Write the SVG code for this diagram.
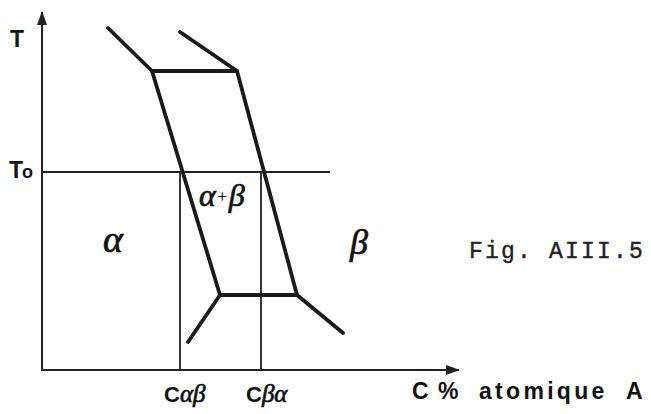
<svg xmlns="http://www.w3.org/2000/svg" width="651" height="414" viewBox="0 0 651 414">
<style>
.ax{stroke:#222;stroke-width:2;fill:none}
.thin{stroke:#222;stroke-width:1.8;fill:none}
.bd{stroke:#1a1a1a;stroke-width:3.8;fill:none;stroke-linejoin:round;stroke-linecap:round}
.sans{font-family:"Liberation Sans",Arial,sans-serif;font-weight:bold;fill:#111}
.gr{font-family:"Liberation Serif","Times New Roman",serif;font-style:italic;fill:#111;stroke:#111;stroke-width:0.7}
.mono{font-family:"Liberation Mono","Courier New",monospace;fill:#222}
</style>
<defs>
<marker id="ah" markerWidth="14" markerHeight="10" refX="13" refY="5" orient="auto" markerUnits="userSpaceOnUse">
<path d="M0,0 L14,5 L0,10 Z" fill="#222"/>
</marker>
</defs>
<g id="connectors">
<line class="ax" x1="42" y1="370" x2="42" y2="12" marker-end="url(#ah)"/>
<line class="ax" x1="41" y1="370" x2="459" y2="370" marker-end="url(#ah)"/>
<line class="thin" x1="42" y1="172" x2="330" y2="172"/>
<line class="thin" x1="180" y1="172" x2="180" y2="370"/>
<line class="thin" x1="261" y1="172" x2="261" y2="370"/>
<polyline class="bd" points="108,28 152,71 220,295 188,342"/>
<polyline class="bd" points="180,32 237,71 297,295 343,333"/>
<line class="bd" x1="152" y1="71" x2="237" y2="71"/>
<line class="bd" x1="220" y1="295" x2="297" y2="295"/>
</g>
<g id="labels">
<text class="sans" x="10" y="47" font-size="23">T</text>
<text class="sans" x="9" y="178" font-size="23">T<tspan font-size="18" dx="-1">o</tspan></text>
<text class="gr" x="103" y="252" font-size="38">α</text>
<text class="gr" x="350" y="254" font-size="36">β</text>
<text class="gr" x="199" y="206" font-size="32">α<tspan font-style="normal" font-size="16" stroke-width="0.3" dx="2" dy="-4">+</tspan><tspan dx="2" dy="4">β</tspan></text>
<text class="mono" x="469" y="258" font-size="23" letter-spacing="2.2" stroke="#222" stroke-width="0.4">Fig. AIII.5</text>
<text class="sans" x="164" y="402" font-size="22">C<tspan class="gr" font-weight="normal" font-size="25" stroke-width="0.5">αβ</tspan></text>
<text class="sans" x="246" y="402" font-size="22">C<tspan class="gr" font-weight="normal" font-size="25" stroke-width="0.5">βα</tspan></text>
<text class="sans" x="412" y="399" font-size="23">C</text>
<text class="sans" x="438" y="399" font-size="23">%</text>
<text class="sans" x="479" y="399" font-size="23" letter-spacing="3.3">atomique</text>
<text class="sans" x="626" y="399" font-size="23">A</text>
</g>
</svg>
